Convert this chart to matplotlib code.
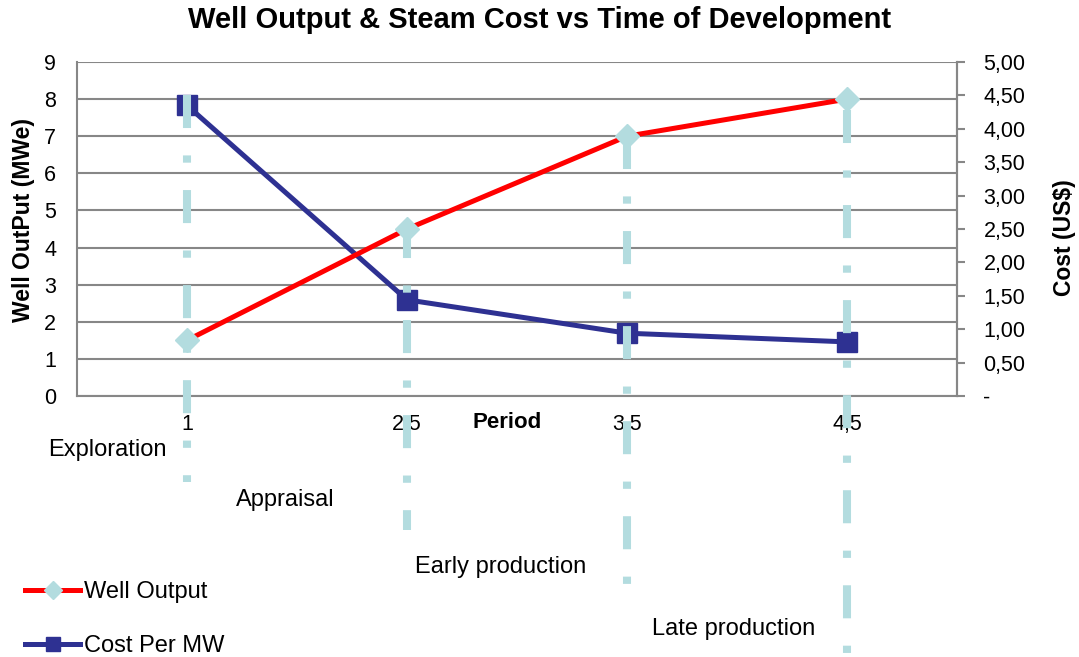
import matplotlib
matplotlib.use("Agg")
import matplotlib.pyplot as plt
from matplotlib.ticker import FixedLocator, FixedFormatter

# ---- data ----
periods = ["1", "2,5", "3,5", "4,5"]
well_output = [1.5, 4.5, 7.0, 8.0]          # MWe (left axis)
cost_per_mw = [4.35, 1.44, 0.94, 0.81]      # US$ (right axis)
phases = ["Exploration", "Appraisal", "Early production", "Late production"]
right_ticks = [0, 0.5, 1.0, 1.5, 2.0, 2.5, 3.0, 3.5, 4.0, 4.5, 5.0]
right_labels = ["-", "0,50", "1,00", "1,50", "2,00", "2,50", "3,00", "3,50", "4,00", "4,50", "5,00"]
# extent of the dash-dot phase markers, in left-axis units
phase_line_top = [8.1, 4.6, 7.0, 7.7]
phase_line_bottom = [-2.32, -3.6, -5.28, -6.98]

plt.rcParams['font.family'] = ['Liberation Sans', 'DejaVu Sans']

fig = plt.figure(figsize=(10.79, 6.57), dpi=100)
ax = fig.add_axes([77/1079, 1-396/657, (957-77)/1079, (396-62)/657])
ax2 = ax.twinx()

grey = "#878787"
lightblue = "#b3dcdf"
x = list(range(len(periods)))
FS = 15.5

ax.set_xlim(-0.5, len(periods) - 0.5)
ax.set_ylim(0, 9)
ax2.set_ylim(0, 5)

ax.set_yticks(range(0, 10))
ax.yaxis.grid(True, color=grey, linewidth=1.5)
ax.set_axisbelow(True)
ax.tick_params(axis='y', length=0, labelsize=FS, pad=15)
ax.set_xticks(x)
ax.set_xticklabels(periods)
ax.tick_params(axis='x', length=0, labelsize=FS, pad=13)

ax2.yaxis.set_major_locator(FixedLocator(right_ticks))
ax2.yaxis.set_major_formatter(FixedFormatter(right_labels))
ax2.tick_params(axis='y', length=6, width=1.5, color=grey, labelsize=FS, pad=13)

for a in (ax, ax2):
    for s in a.spines.values():
        s.set_color(grey)
        s.set_linewidth(1.5)
    a.spines['top'].set_visible(False)
ax2.spines['left'].set_visible(False)
ax2.spines['bottom'].set_visible(False)

# cost line (right axis)
cost_line, = ax2.plot(x, cost_per_mw, color="#2e3192", linewidth=3.6, marker='s',
                      markersize=14, markerfacecolor="#2e3192", markeredgecolor="#2e3192",
                      label="Cost Per MW", zorder=2, clip_on=False)

# phase dash-dot markers
for i, (yt, yb) in enumerate(zip(phase_line_top, phase_line_bottom)):
    ax2.plot([i, i], [yt * 5 / 9, yb * 5 / 9], color=lightblue, linewidth=5.8,
             linestyle=(0, (4.1, 3.4, 0.9, 3.4)), solid_capstyle='butt',
             dash_capstyle='butt', clip_on=False, zorder=3)

# well output (left-axis values, drawn on the upper axes layer)
well_line, = ax2.plot(x, [v * 5 / 9 for v in well_output], color="#ff0000", linewidth=3.6,
                      marker='D', markersize=12, markerfacecolor=lightblue,
                      markeredgecolor=lightblue, label="Well Output", zorder=4, clip_on=False)

fig.text(24/1079, 1-220/657, "Well OutPut (MWe)", fontsize=16.5, fontweight='bold',
         rotation=90, ha='center', va='center')
fig.text(1064/1079, 1-238/657, "Cost (US$)", fontsize=16.5, fontweight='bold',
         rotation=90, ha='center', va='center')
fig.text(507/1079, 1-422/657, "Period", fontsize=16, fontweight='bold',
         ha='center', va='center')
fig.suptitle("Well Output & Steam Cost vs Time of Development", fontsize=21,
             fontweight='bold', x=540/1079, y=1-20/657, va='center')

label_pos = [(48, 450), (236, 500), (415, 567), (652, 629)]
for name, (px, py) in zip(phases, label_pos):
    fig.text(px/1079, 1-py/657, name, fontsize=17, ha='left', va='center')

fig.legend(handles=[well_line, cost_line], loc='upper left',
           bbox_to_anchor=(25/1079, 1-581/657), frameon=False, fontsize=17,
           handlelength=2.35, handletextpad=0.15, labelspacing=1.36, numpoints=1,
           markerscale=0.75, borderaxespad=0, borderpad=0)

fig.savefig("out.png", dpi=100)
